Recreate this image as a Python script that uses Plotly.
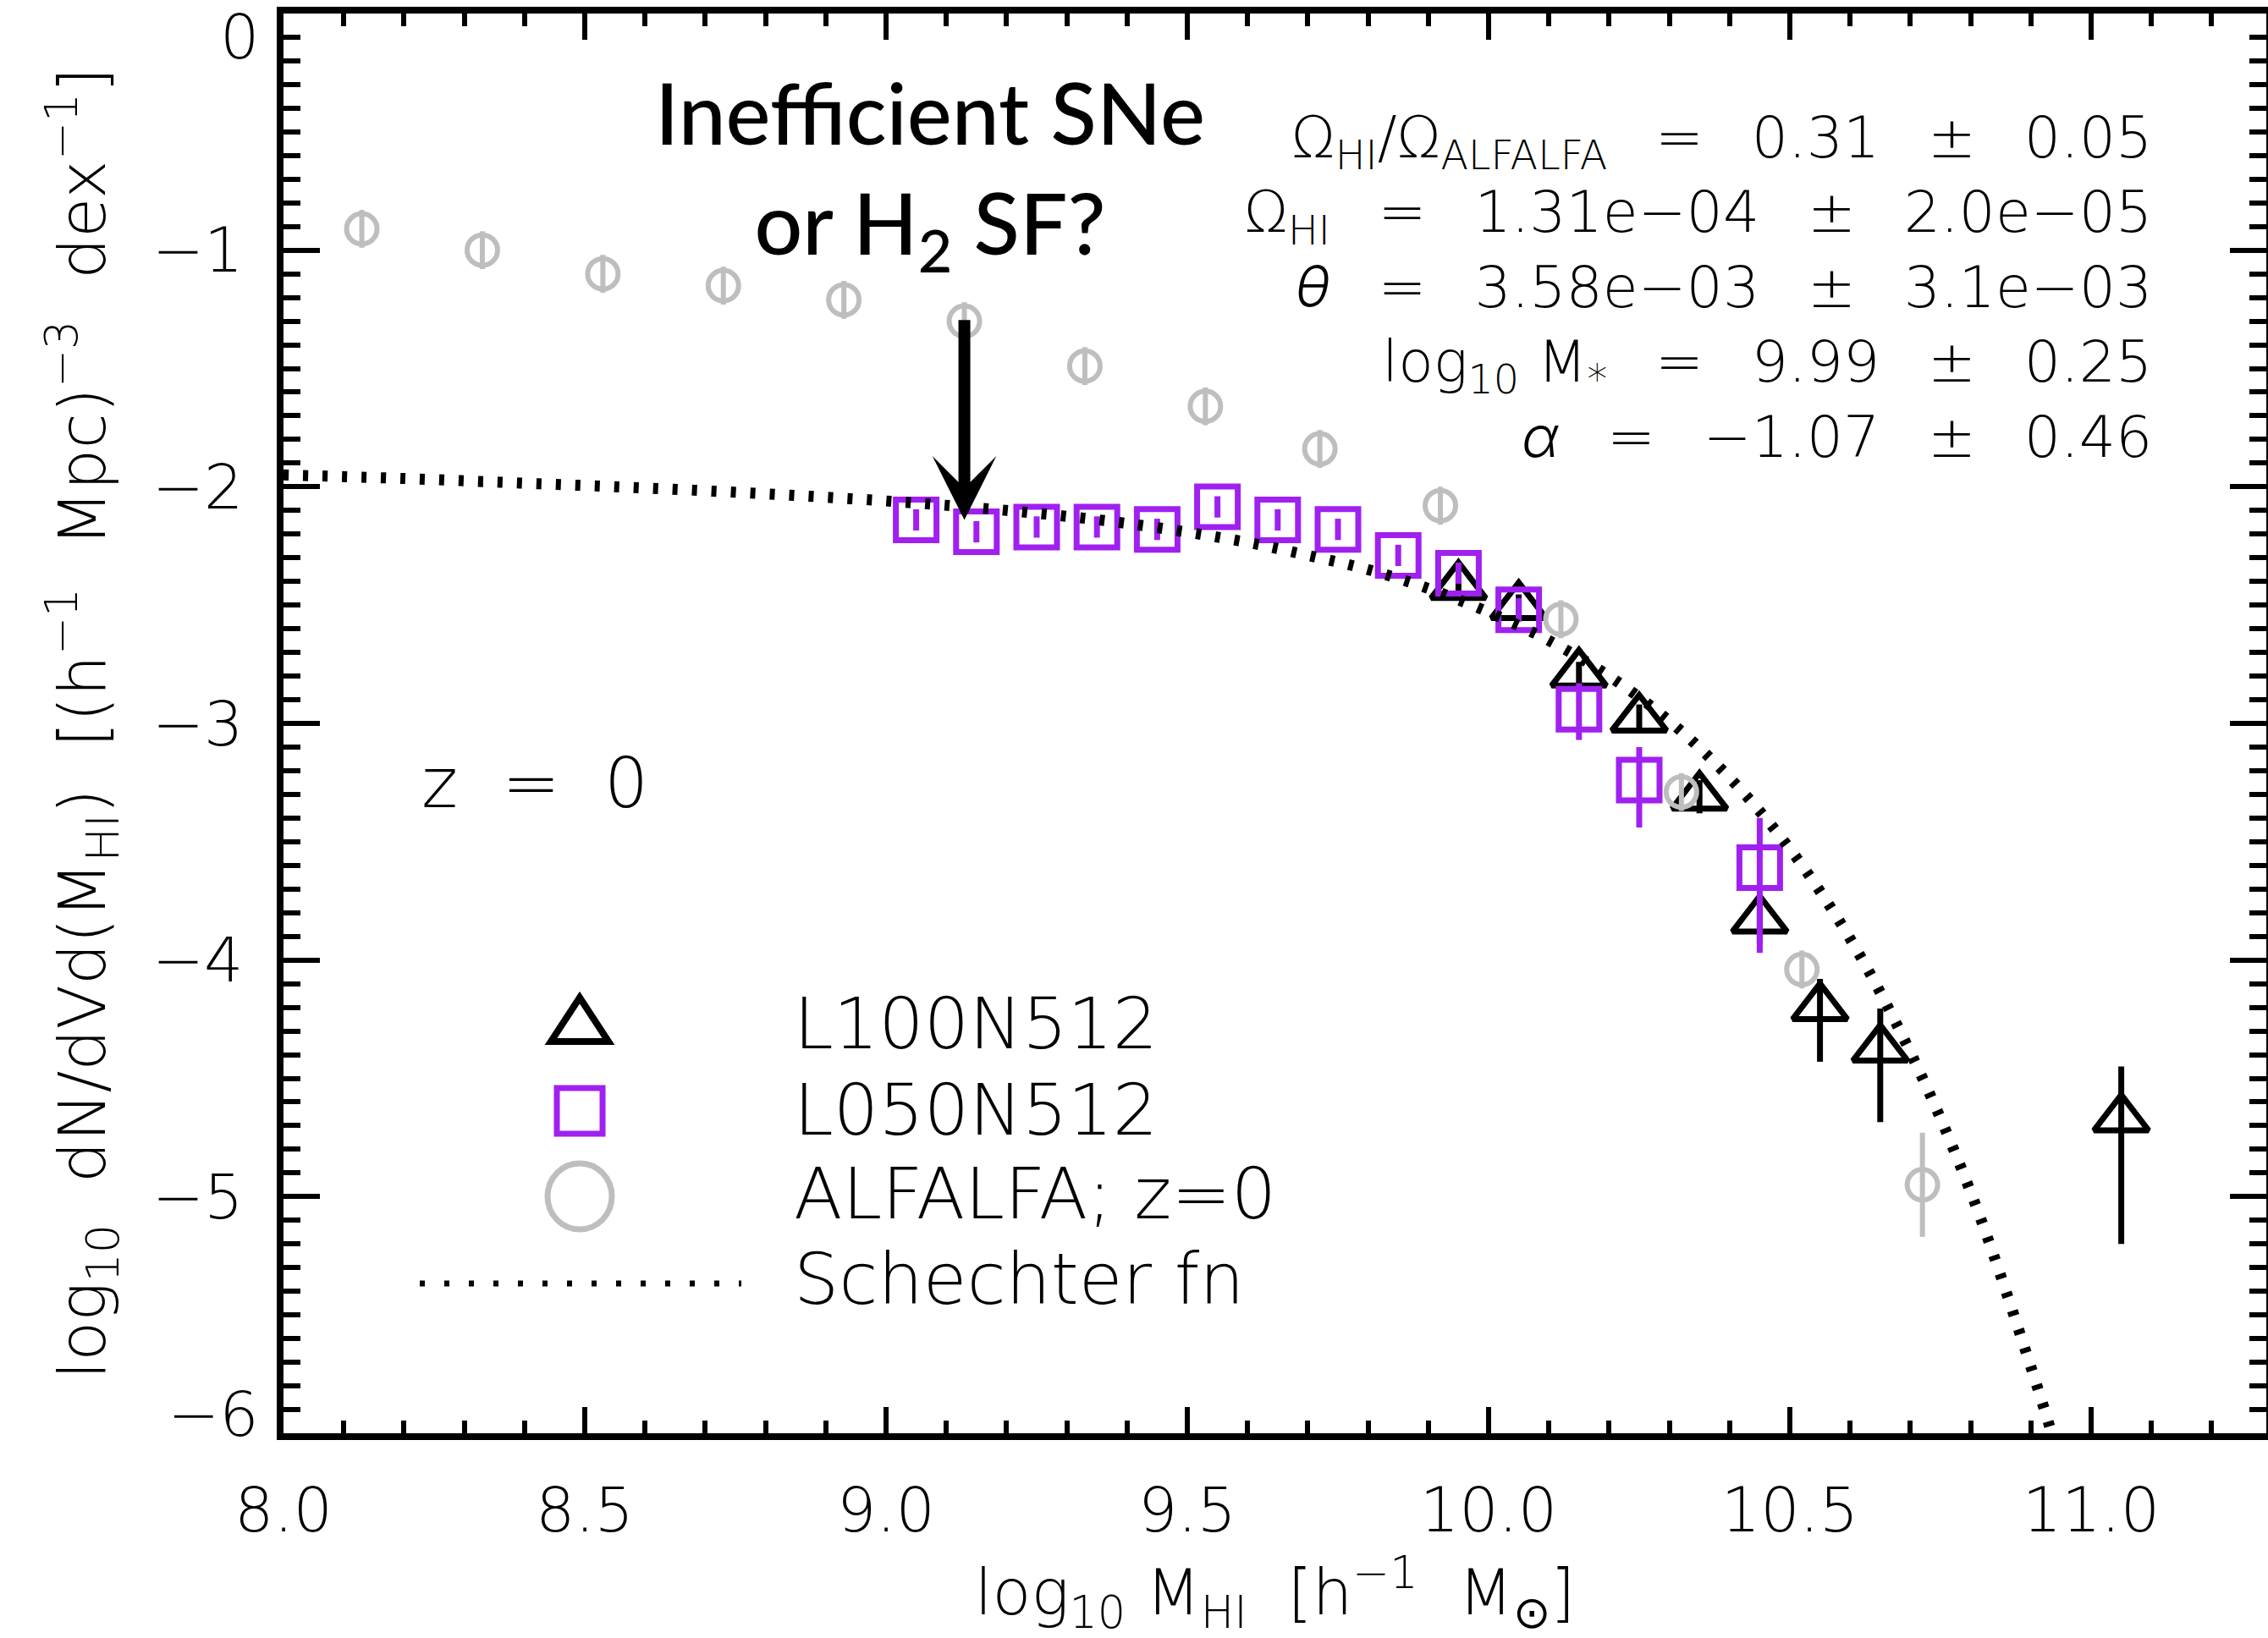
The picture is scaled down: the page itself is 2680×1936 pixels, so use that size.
import plotly.graph_objects as go

# ---------------- data ----------------
# ALFALFA observed HI mass function, z = 0
alfalfa_x = [8.13, 8.33, 8.53, 8.73, 8.93, 9.13, 9.33, 9.53, 9.72, 9.92, 10.12, 10.32, 10.52, 10.72]
alfalfa_y = [-0.91, -1.00, -1.10, -1.15, -1.21, -1.30, -1.49, -1.66, -1.84, -2.08, -2.56, -3.29, -4.04, -4.95]
alfalfa_err = [0.08, 0.08, 0.08, 0.08, 0.08, 0.08, 0.08, 0.08, 0.08, 0.08, 0.08, 0.08, 0.08, 0.22]

# L100N512 simulation (triangles)
l100_x = [9.95, 10.05, 10.15, 10.25, 10.35, 10.45, 10.55, 10.65, 11.05]
l100_y = [-2.42, -2.505, -2.79, -2.98, -3.31, -3.83, -4.20, -4.375, -4.67]
l100_err_up = [0.05, 0.05, 0.05, 0.06, 0.07, 0.10, 0.12, 0.17, 0.22]
l100_err_down = [0.05, 0.05, 0.05, 0.06, 0.07, 0.10, 0.23, 0.31, 0.53]

# L050N512 simulation (squares)
l050_x = [9.05, 9.15, 9.25, 9.35, 9.45, 9.55, 9.65, 9.75, 9.85, 9.95, 10.05, 10.15, 10.25, 10.45]
l050_y = [-2.14, -2.19, -2.17, -2.17, -2.18, -2.085, -2.14, -2.18, -2.29, -2.365, -2.52, -2.94, -3.24, -3.61]
l050_err_up = [0.045, 0.045, 0.045, 0.045, 0.045, 0.045, 0.045, 0.045, 0.045, 0.045, 0.05, 0.11, 0.14, 0.21]
l050_err_down = [0.045, 0.045, 0.045, 0.045, 0.045, 0.045, 0.045, 0.045, 0.045, 0.045, 0.05, 0.13, 0.20, 0.36]

# Schechter fit (dotted curve)
schechter_x = [8.0, 8.2, 8.4, 8.6, 8.8, 9.0, 9.2, 9.4, 9.6, 9.7, 9.8, 9.9, 10.0, 10.1,
               10.2, 10.3, 10.4, 10.5, 10.6, 10.7, 10.8, 10.9, 10.95]
schechter_y = [-1.95, -1.965, -1.985, -2.005, -2.03, -2.06, -2.10, -2.155, -2.235, -2.29, -2.35,
               -2.43, -2.53, -2.65, -2.80, -2.99, -3.23, -3.53, -3.91, -4.39, -4.98, -5.72, -6.13]

y_tick_vals = [-6, -5, -4, -3, -2, -1, 0]
y_tick_text = ["", "−5", "−4", "−3", "−2", "−1", ""]

GREEK_IT = '<span style="font-family:Inter;font-weight:300;font-style:italic">{}</span>'
fit_lines = [
    "Ω<sub>HI</sub>/Ω<sub>ALFALFA</sub>  =  0.31  ±  0.05",
    "Ω<sub>HI</sub>  =  1.31e−04  ±  2.0e−05",
    GREEK_IT.format("θ") + "  =  3.58e−03  ±  3.1e−03",
    "log<sub>10</sub> M<sub>*</sub>  =  9.99  ±  0.25",
    GREEK_IT.format("α") + "  =  −1.07  ±  0.46",
]
legend_labels = ["L100N512", "L050N512", "ALFALFA; z=0", "Schechter fn"]

PURPLE = "#A020F0"
GRAY = "#BEBEBE"
FONT = "DejaVu Sans"
FW = 200

W, H = 2680, 1936
ML, MR, MT, MB = 335, 2, 16, 242


def sp(s, extra=""):
    return s.replace("  ", "\u00a0\u00a0" + extra)


fig = go.Figure()

fig.add_trace(go.Scatter(
    x=l100_x, y=l100_y, mode="markers", name="L100N512",
    marker=dict(symbol="triangle-up-open", size=56, color="black", line=dict(width=7, color="black")),
    error_y=dict(type="data", symmetric=False, array=l100_err_up, arrayminus=l100_err_down,
                 color="black", thickness=7, width=0),
    showlegend=False,
))
fig.add_trace(go.Scatter(
    x=l050_x, y=l050_y, mode="markers", name="L050N512",
    marker=dict(symbol="square-open", size=48, color=PURPLE, line=dict(width=7, color=PURPLE)),
    error_y=dict(type="data", symmetric=False, array=l050_err_up, arrayminus=l050_err_down,
                 color=PURPLE, thickness=7, width=0),
    showlegend=False,
))
fig.add_trace(go.Scatter(
    x=alfalfa_x, y=alfalfa_y, mode="markers", name="ALFALFA; z=0",
    marker=dict(symbol="circle-open", size=36, color=GRAY, line=dict(width=6, color=GRAY)),
    error_y=dict(type="data", array=alfalfa_err, color=GRAY, thickness=6, width=0),
    showlegend=False,
))
fig.add_trace(go.Scatter(
    x=schechter_x, y=schechter_y, mode="lines", name="Schechter fn",
    line=dict(color="black", width=13, dash="6px,17px", shape="spline"),
    showlegend=False,
))

pw = W - ML - MR
ph = H - MT - MB


def px(X):
    return (X - ML) / pw


def py(Y):
    return (H - MB - Y) / ph


annotations = []
# edge tick labels of the y axis (drawn slightly inward, as in the reference)
for txt, yy in [("0", 43), ("−6", 1671)]:
    annotations.append(dict(
        xref="paper", yref="paper", x=px(308), y=py(yy), xanchor="right", yanchor="middle",
        text=txt, showarrow=False, font=dict(family=FONT, size=73, color="black", weight=FW),
    ))
# fit parameters block
annotations.append(dict(
    xref="paper", yref="paper", x=px(2545), y=py(340), xanchor="right", yanchor="middle",
    text="<br>".join(sp(s, "\u2009") for s in fit_lines), align="right", showarrow=False,
    font=dict(family=FONT, size=68, color="black", weight=FW),
))
# big annotation
annotations.append(dict(
    xref="paper", yref="paper", x=px(1099), y=py(205), xanchor="center", yanchor="middle",
    text="Inefficient SNe<br>or H<sub>2</sub> SF?", align="center", showarrow=False,
    font=dict(family="Lato", size=100, color="black", weight=500),
))
# arrow
annotations.append(dict(
    x=9.13, y=-2.14, ax=9.13, ay=-1.29, xref="x", yref="y", axref="x", ayref="y",
    text="", showarrow=True, arrowhead=3, arrowwidth=14, arrowsize=0.9, arrowcolor="black",
))
# z = 0
annotations.append(dict(
    xref="paper", yref="paper", x=px(496), y=py(925), xanchor="left", yanchor="middle",
    text=sp("z  =  0"), showarrow=False, font=dict(family=FONT, size=82, color="black", weight=FW),
))
# legend labels
for lab, yy in zip(legend_labels, [1210, 1312, 1411, 1512]):
    annotations.append(dict(
        xref="paper", yref="paper", x=px(936), y=py(yy), xanchor="left", yanchor="middle",
        text=lab, showarrow=False, font=dict(family=FONT, size=84, color="black", weight=FW),
    ))

shapes = [
    dict(type="path", xref="paper", yref="paper", xsizemode="pixel", ysizemode="pixel",
         xanchor=px(685), yanchor=py(1206), path="M -34,-25 L 34,-25 L 0,27 Z",
         line=dict(color="black", width=8)),
    dict(type="rect", xref="paper", yref="paper", xsizemode="pixel", ysizemode="pixel",
         xanchor=px(685), yanchor=py(1313), x0=-27, x1=27, y0=-27, y1=27,
         line=dict(color=PURPLE, width=7)),
    dict(type="circle", xref="paper", yref="paper", xsizemode="pixel", ysizemode="pixel",
         xanchor=px(685), yanchor=py(1414), x0=-38, x1=38, y0=-39, y1=39,
         line=dict(color=GRAY, width=7)),
    dict(type="line", xref="paper", yref="paper", x0=px(496), x1=px(876), y0=py(1517), y1=py(1517),
         line=dict(color="black", width=7, dash="6px,23px")),
]

fig.update_layout(
    template="none",
    width=W, height=H, autosize=False,
    margin=dict(l=ML, r=MR, t=MT, b=MB, pad=0),
    paper_bgcolor="white", plot_bgcolor="white",
    font=dict(family=FONT, size=73, color="black", weight=FW),
    showlegend=False,
    annotations=annotations,
    shapes=shapes,
    xaxis=dict(
        range=[8.0, 8.0 + pw / 712.0], tickmode="linear", tick0=8.0, dtick=0.5, tickformat=".1f",
        ticks="inside", ticklen=31, tickwidth=6, tickcolor="black",
        showline=True, linewidth=8, linecolor="black", mirror="allticks",
        minor=dict(tick0=8.0, dtick=0.1, ticks="inside", ticklen=15, tickwidth=6, tickcolor="black", showgrid=False),
        showgrid=False, zeroline=False, automargin=False,
        tickfont=dict(family=FONT, size=73, weight=FW), ticklabelstandoff=20,
        title=dict(text=sp("log<sub>10</sub> M<sub>HI</sub>  [h<sup>−1</sup>  M<sub>⊙</sub>]"),
                   font=dict(family=FONT, size=75, weight=FW), standoff=40),
    ),
    yaxis=dict(
        range=[-6, 0], tickmode="array", tickvals=y_tick_vals, ticktext=y_tick_text,
        ticks="inside", ticklen=43, tickwidth=6, tickcolor="black",
        showline=True, linewidth=8, linecolor="black", mirror="allticks",
        minor=dict(tick0=0, dtick=0.1, ticks="inside", ticklen=20, tickwidth=6, tickcolor="black", showgrid=False),
        showgrid=False, zeroline=False, automargin=False,
        tickfont=dict(family=FONT, size=73, weight=FW), ticklabelstandoff=25,
        title=dict(text=sp("log<sub>10</sub>  dN/dVd(M<sub>HI</sub>)  [(h<sup>−1</sup>  Mpc)<sup>−3</sup>  dex<sup>−1</sup>]"),
                   font=dict(family=FONT, size=77, weight=FW), standoff=33),
    ),
)

fig.write_html("out.html")
